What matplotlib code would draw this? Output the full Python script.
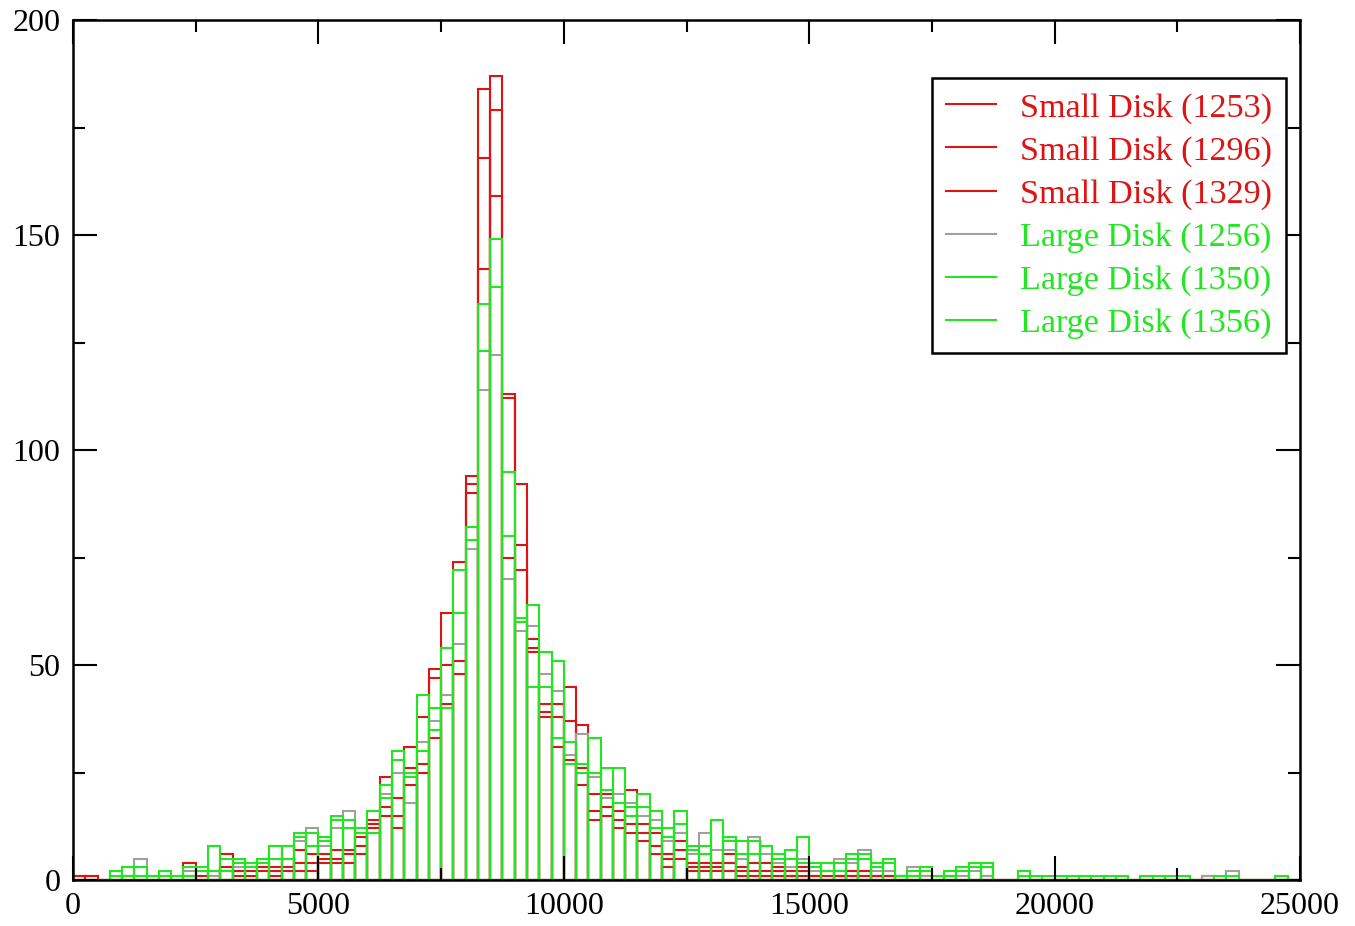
import numpy as np
import matplotlib
matplotlib.use('Agg')
import matplotlib.pyplot as plt
from matplotlib.lines import Line2D

# Histogram: 100 bins of width 250 from 0 to 25000
bin_edges = np.arange(0, 25001, 250)

small_1253 = [1, 1, 0, 0, 1, 0, 0, 0, 0, 4,
              0, 2, 6, 2, 2, 3, 3, 8, 7, 6,
              6, 7, 7, 10, 14, 24, 19, 31, 38, 49,
              62, 74, 94, 184, 187, 113, 92, 56, 41, 41,
              45, 36, 20, 20, 16, 21, 13, 11, 6, 9,
              4, 4, 4, 6, 3, 4, 4, 3, 2, 3,
              1, 2, 1, 2, 2, 1, 1, 1, 1, 1,
              0, 1, 0, 0, 1, 0, 0, 0, 0, 0,
              0, 0, 0, 0, 0, 0, 0, 0, 0, 0,
              0, 0, 1, 0, 0, 0, 0, 0, 0, 0]
small_1296 = [1, 0, 0, 0, 0, 0, 0, 0, 0, 1,
              0, 1, 3, 1, 1, 2, 2, 3, 4, 4,
              5, 5, 6, 8, 13, 17, 15, 26, 27, 47,
              50, 51, 92, 168, 179, 112, 78, 54, 39, 38,
              37, 26, 16, 17, 14, 13, 11, 8, 5, 7,
              3, 3, 3, 4, 2, 2, 2, 2, 1, 2,
              1, 1, 1, 1, 2, 1, 1, 0, 0, 0,
              0, 0, 0, 0, 0, 0, 0, 0, 0, 0,
              0, 0, 0, 0, 0, 0, 0, 0, 0, 0,
              0, 0, 0, 0, 0, 0, 0, 0, 0, 0]
small_1329 = [0, 1, 0, 0, 0, 0, 0, 0, 0, 0,
              1, 0, 2, 0, 0, 0, 1, 2, 2, 2,
              4, 4, 4, 6, 12, 15, 12, 22, 25, 33,
              41, 48, 90, 142, 159, 75, 72, 53, 38, 31,
              28, 22, 14, 15, 12, 11, 9, 6, 3, 5,
              2, 2, 2, 2, 1, 1, 1, 1, 1, 1,
              0, 0, 0, 1, 1, 0, 0, 0, 0, 0,
              0, 0, 0, 0, 0, 0, 0, 0, 0, 0,
              0, 0, 0, 0, 0, 0, 0, 0, 0, 0,
              0, 0, 0, 0, 0, 0, 0, 0, 0, 0]
large_1256 = [0, 0, 0, 1, 1, 5, 0, 1, 0, 2,
              2, 1, 2, 3, 3, 4, 5, 5, 9, 12,
              8, 12, 16, 11, 11, 20, 25, 18, 32, 37,
              43, 55, 77, 114, 122, 70, 58, 59, 48, 44,
              29, 34, 24, 19, 20, 18, 15, 14, 9, 11,
              6, 11, 7, 7, 5, 10, 6, 4, 3, 5,
              2, 2, 5, 4, 7, 2, 2, 1, 3, 1,
              0, 1, 1, 2, 1, 0, 0, 1, 0, 0,
              0, 0, 0, 0, 0, 0, 0, 0, 0, 0,
              0, 0, 1, 0, 2, 0, 0, 0, 0, 0]
large_1350 = [0, 0, 0, 2, 3, 3, 1, 2, 1, 3,
              3, 8, 5, 5, 4, 5, 8, 8, 11, 11,
              10, 15, 14, 12, 16, 22, 30, 25, 43, 40,
              54, 72, 82, 134, 149, 95, 61, 64, 53, 51,
              32, 27, 33, 26, 26, 17, 20, 16, 12, 16,
              8, 8, 14, 10, 9, 9, 8, 6, 7, 10,
              4, 4, 4, 6, 6, 4, 5, 1, 2, 3,
              1, 2, 3, 4, 4, 0, 0, 2, 1, 1,
              1, 1, 1, 1, 1, 1, 0, 1, 1, 1,
              1, 0, 0, 1, 1, 0, 0, 0, 1, 0]
large_1356 = [0, 0, 0, 1, 1, 1, 1, 1, 1, 1,
              2, 2, 2, 4, 3, 4, 5, 5, 10, 8,
              9, 14, 12, 11, 11, 19, 28, 24, 30, 35,
              40, 62, 79, 123, 138, 80, 60, 45, 45, 33,
              27, 25, 25, 21, 18, 15, 17, 12, 10, 13,
              7, 6, 14, 9, 6, 6, 8, 5, 5, 4,
              3, 2, 2, 5, 5, 3, 4, 1, 1, 2,
              1, 1, 2, 3, 3, 0, 0, 1, 0, 0,
              0, 0, 0, 0, 0, 0, 0, 0, 0, 0,
              0, 0, 0, 0, 0, 0, 0, 0, 0, 0]

labels = ['Small Disk (1253)', 'Small Disk (1296)', 'Small Disk (1329)',
          'Large Disk (1256)', 'Large Disk (1350)', 'Large Disk (1356)']
series = [small_1253, small_1296, small_1329, large_1256, large_1350, large_1356]

red = '#dc1414'
green = '#22e622'
grey = '#a0a0a0'
line_colors = [red, red, red, grey, green, green]
text_colors = [red, red, red, green, green, green]

plt.rcParams['font.family'] = ['Liberation Serif', 'DejaVu Serif']

fig = plt.figure(figsize=(13.55, 9.26), dpi=100)
ax = fig.add_axes([73 / 1355, 1 - 880 / 926, 1227 / 1355, 860 / 926])

for counts, col in zip(series, line_colors):
    ax.bar(bin_edges[:-1], counts, width=250, align='edge', fill=False,
           edgecolor=col, linewidth=1.5)

ax.set_xlim(0, 25000)
ax.set_ylim(0, 200)
ax.set_xticks(np.arange(0, 25001, 5000))
ax.set_xticks(np.arange(0, 25001, 2500), minor=True)
ax.set_yticks(np.arange(0, 201, 50))
ax.set_yticks(np.arange(0, 201, 25), minor=True)
ax.tick_params(which='both', direction='in', top=True, right=True,
               width=1.5, labelsize=23, colors='black')
ax.tick_params(which='major', length=17, pad=9)
ax.tick_params(which='minor', length=8.5)
for sp in ax.spines.values():
    sp.set_linewidth(1.8)

handles = [Line2D([], [], color=c, linewidth=1.5) for c in line_colors]
leg = ax.legend(handles, labels, loc='upper right',
                bbox_to_anchor=(1213 / 1227, 802 / 860), borderaxespad=0,
                fontsize=24.6, labelcolor=text_colors, frameon=True,
                fancybox=False, framealpha=1, edgecolor='black',
                handlelength=1.44, handletextpad=0.7, labelspacing=0.35,
                borderpad=0.42)
leg.get_frame().set_linewidth(1.8)

fig.savefig('out.png', dpi=100)
